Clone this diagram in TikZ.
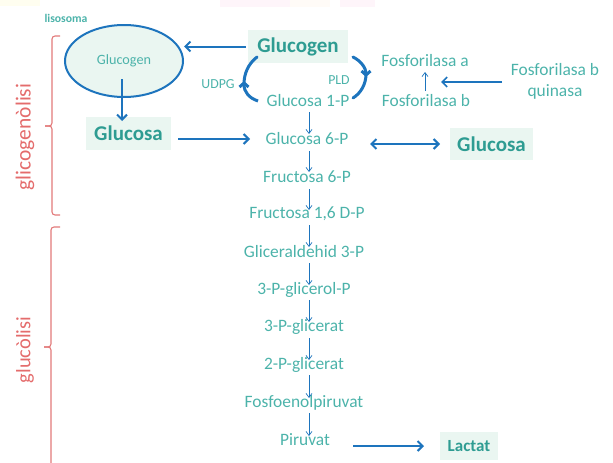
\documentclass[tikz,border=0pt]{standalone}
\usepackage{fontspec}
\setmainfont{Carlito}
\usetikzlibrary{arrows.meta,shapes.geometric}
\definecolor{tealtxt}{HTML}{4CB3AA}
\definecolor{tealdark}{HTML}{2E9C92}
\definecolor{boxfill}{HTML}{EAF6F1}
\definecolor{arrblue}{HTML}{1D74BD}
\definecolor{redtxt}{HTML}{E46C6C}
\definecolor{redbrace}{HTML}{E27A7A}
\tikzset{
  txt/.style={text=tealtxt, inner sep=1pt, font=\fontsize{17.4}{20}\selectfont},
  smalltxt/.style={text=tealtxt, inner sep=1pt, font=\fontsize{13.8}{16}\selectfont},
  bigbox/.style={fill=boxfill, text=tealdark, inner sep=0pt, font=\bfseries\fontsize{21}{24}\selectfont},
  thinarr/.style={draw=arrblue, line width=0.7pt, -{Straight Barb[length=4pt,width=6pt]}},
  thickarr/.style={draw=arrblue, line width=2pt, -{Straight Barb[length=5pt,width=10pt]}},
  bracestyle/.style={draw=redbrace, line width=1.1pt, rounded corners=3pt},
  sidelabel/.style={text=redtxt, rotate=90, inner sep=0pt, font=\fontsize{21.5}{24}\selectfont}
}
\begin{document}
\begin{tikzpicture}[x=1pt,y=-1pt]
\useasboundingbox (0,0) rectangle (613,463);
% faint pastel band at top
\fill[yellow!15, opacity=0.4] (0,0) rectangle (40,6);
\fill[magenta!8, opacity=0.5] (220,0) rectangle (290,7);
\fill[orange!8, opacity=0.4] (290,0) rectangle (330,7);
\fill[magenta!8, opacity=0.5] (340,0) rectangle (375,7);

% braces
\draw[bracestyle] (60,36) -- (52,36) -- (52,126) -- (45,126);
\draw[bracestyle] (45,126) -- (52,126) -- (52,215) -- (60,215);
\draw[bracestyle] (60,227) -- (51,227) -- (51,347) -- (44,347);
\draw[bracestyle] (44,347) -- (51,347) -- (51,470);
\node[sidelabel] (lglyc) at (25,137) {glicogenòlisi};
\node[sidelabel, font=\fontsize{20.5}{24}\selectfont] (lglu) at (25,350) {glucòlisi};

% lysosome
\node[text=tealtxt, font=\bfseries\fontsize{11.7}{14}\selectfont, inner sep=0pt] (liso) at (66,18) {lisosoma};
\node[ellipse, draw=arrblue, line width=2pt, fill=boxfill, minimum width=118pt, minimum height=72pt, inner sep=0pt] (ell) at (124,61) {};
\node[smalltxt, font=\fontsize{14.2}{16}\selectfont] (glyin) at (124,61) {Glucogen};
\coordinate (ellbot) at (122,79);

% boxes
\node[bigbox, minimum width=100pt, minimum height=33pt] (glytop) at (298,46.5) {Glucogen};
\node[bigbox, minimum width=85pt, minimum height=33pt] (glcl) at (128.5,133.5) {Glucosa};
\node[bigbox, minimum width=83pt, minimum height=32pt] (glcr) at (491.5,144) {Glucosa};
\node[bigbox, minimum width=58pt, minimum height=28pt, font=\bfseries\fontsize{17}{20}\selectfont] (lact) at (469,446) {Lactat};

% main pathway
\node[txt] (g1p) at (308,101) {Glucosa 1-P};
\node[txt] (g6p) at (307,139) {Glucosa 6-P};
\node[txt] (f6p) at (307,177) {Fructosa 6-P};
\node[txt] (f16) at (307,214) {Fructosa 1,6 D-P};
\node[txt] (gal) at (304,252) {Gliceraldehid 3-P};
\node[txt] (pgp) at (304,290) {3-P-glicerol-P};
\node[txt] (p3g) at (304,327) {3-P-glicerat};
\node[txt] (p2g) at (304,365) {2-P-glicerat};
\node[txt] (pep) at (304,403) {Fosfoenolpiruvat};
\node[txt] (pir) at (305,440) {Piruvat};

\node[smalltxt] (udpg) at (218,84) {UDPG};
\node[smalltxt] (pld) at (339,80) {PLD};

\node[txt] (fa) at (425,61) {Fosforilasa a};
\node[txt] (fb) at (426,101) {Fosforilasa b};
\node[txt, align=center, font=\fontsize{17.4}{21}\selectfont] (fbq) at (555,81) {Fosforilasa b\\quinasa};

% thin arrows
\draw[thinarr] (309,112) -- (309,134);
\draw[thinarr] (309,151) -- (309,172);
\draw[thinarr] (309,189) -- (309,210);
\draw[thinarr] (309,225) -- (309,247);
\draw[thinarr] (309,263) -- (309,285);
\draw[thinarr] (309,300) -- (309,322);
\draw[thinarr] (309,338) -- (309,360);
\draw[thinarr] (309,375) -- (309,398);
\draw[thinarr] (309,413) -- (309,436);
\draw[thinarr] (425,91) -- (425,72);

% thick arrows
\draw[thickarr, shorten <=2pt] (glytop.west) -- (ell.east |- glytop.west);
\draw[thickarr] (ellbot) -- (122,121);
\draw[thickarr] (178,139) -- (250,139);
\draw[draw=arrblue, line width=2pt, {Straight Barb[length=5pt,width=10pt]}-{Straight Barb[length=5pt,width=10pt]}] (370,144) -- (440,144);
\draw[thickarr, line width=1.6pt] (502,82) -- (441,82);
\draw[thickarr] (353,446) -- (424,446);

% curved arrows
\draw[draw=arrblue, line width=3pt, line cap=round] (257,57) .. controls (248,64) and (244,74) .. (244,84);
\draw[draw=arrblue, line width=3pt, -{Straight Barb[length=4pt,width=9pt]}] (258,101) .. controls (249,98) and (244,92) .. (244,81);
\draw[draw=arrblue, line width=3pt, line cap=round] (353,98) .. controls (361,93) and (366,84) .. (366,74);
\draw[draw=arrblue, line width=3pt, line cap=round, -{Straight Barb[length=4pt,width=9pt]}] (353,57) .. controls (361,61) and (366,68) .. (366,77);
\end{tikzpicture}
\end{document}
